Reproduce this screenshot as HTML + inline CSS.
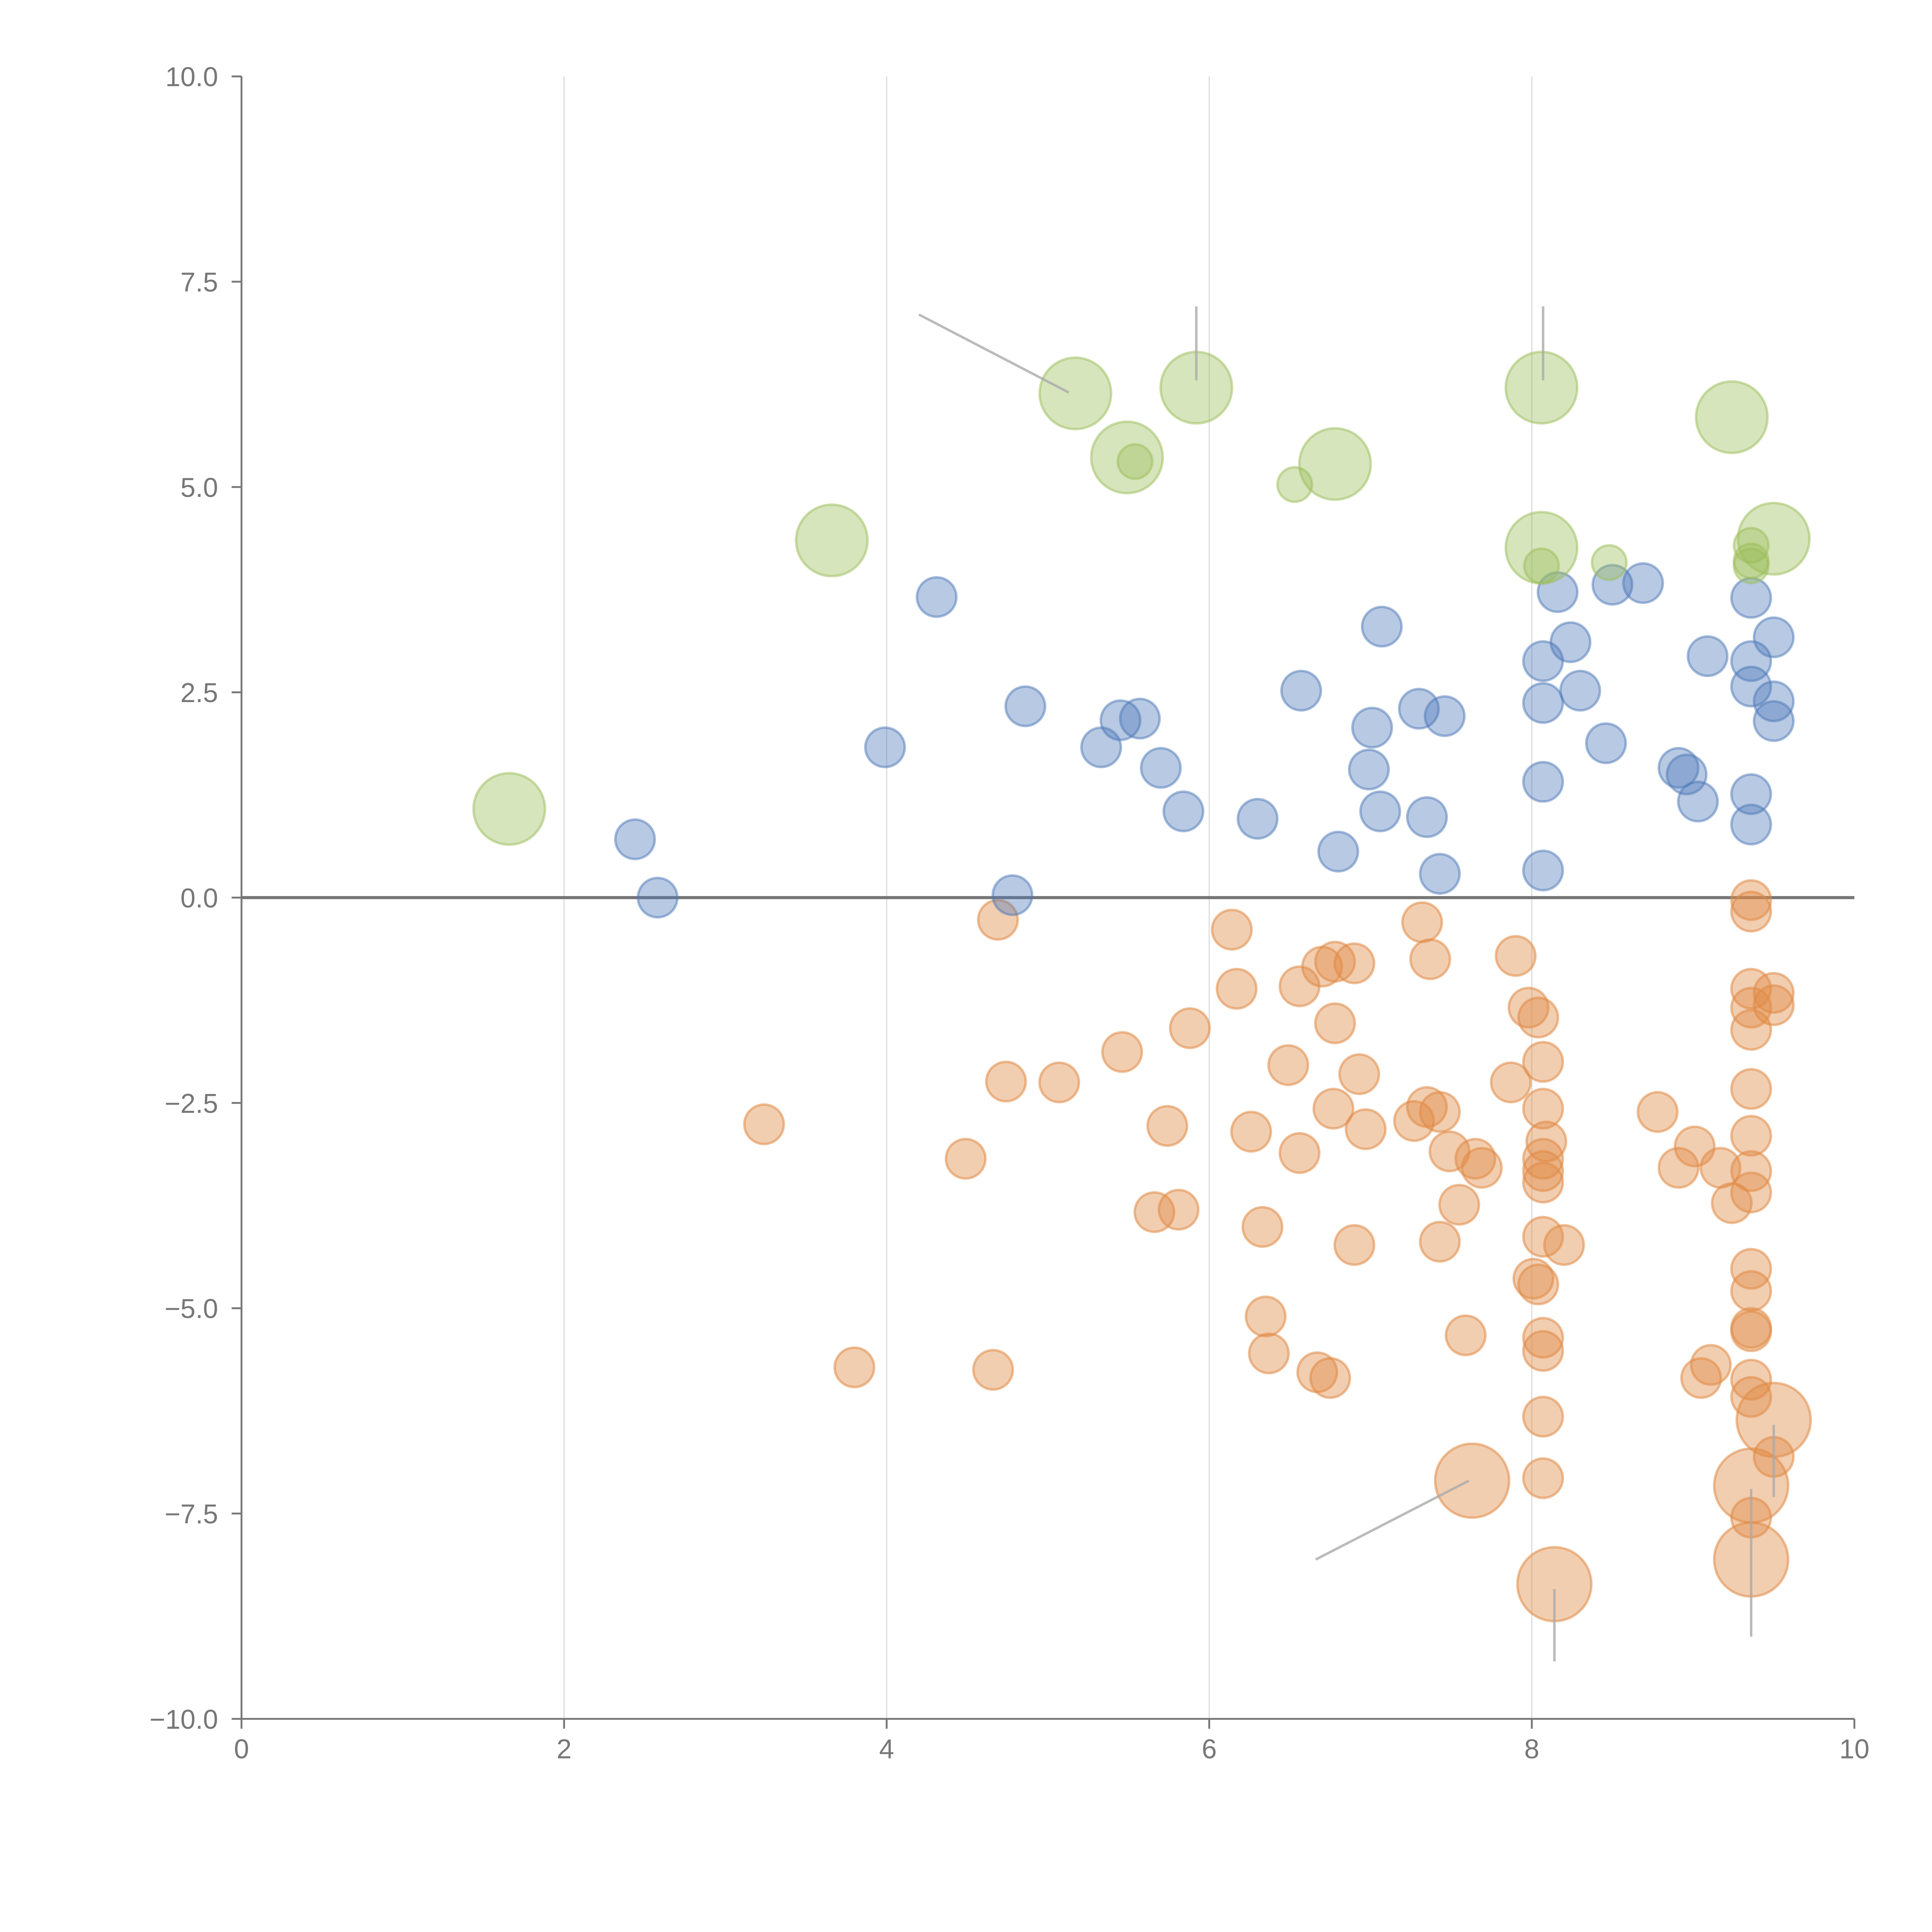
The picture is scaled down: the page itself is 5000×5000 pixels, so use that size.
<!DOCTYPE html>
<html><head><meta charset="utf-8"><style>
html,body{margin:0;padding:0;background:#fff;}
svg{display:block;}
text{font-family:"Liberation Sans",sans-serif;}
</style></head><body>
<svg id="chart" width="5000" height="5000" viewBox="0 0 1568 1568" xmlns="http://www.w3.org/2000/svg">
<g id="grid"></g>
<g id="axes"></g>
<g id="marks"></g>
<g id="ann"></g>
</svg>
<script>
const xTicks=[0,2,4,6,8,10];
const yTicks=[-10,-7.5,-5,-2.5,0,2.5,5,7.5,10];
const blueX=[2.44,2.58,4.31,3.99,4.86,4.78,5.33,5.45,5.57,5.70,5.84,6.30,6.57,6.80,7.01,6.99,7.06,7.07,7.30,7.35,7.43,7.46,8.07,8.07,8.07,8.07,8.16,8.24,8.30,8.46,8.50,8.69,8.91,8.96,9.03,9.09,9.36,9.36,9.36,9.36,9.36,9.50,9.50,9.50];
const blueY=[0.71,0,3.66,1.83,2.33,0.03,1.83,2.16,2.18,1.58,1.05,0.96,2.52,0.56,2.07,1.56,1.05,3.30,2.30,0.98,0.29,2.21,2.88,2.37,1.41,0.33,3.72,3.11,2.52,1.88,3.81,3.83,1.58,1.50,1.17,2.94,3.65,2.88,2.57,1.26,0.89,3.17,2.39,2.15];
const greenX=[1.66,3.66,5.17,5.49,5.54,5.92,6.53,6.78,8.06,8.06,8.06,8.48,9.24,9.36,9.36,9.36,9.50];
const greenY=[1.08,4.35,6.14,5.36,5.31,6.21,5.03,5.28,6.21,4.26,4.04,4.08,5.85,4.29,4.10,4.04,4.37];
const greenS=[2,2,2,2,1,2,1,2,2,2,1,1,2,1,1,1,2];
const orangeX=[4.69,3.24,3.80,4.49,4.66,4.74,5.07,5.46,5.66,5.74,5.81,5.88,6.14,6.17,6.26,6.33,6.35,6.37,6.49,6.56,6.56,6.67,6.70,6.75,6.77,6.78,6.78,6.90,6.90,6.93,6.97,7.27,7.32,7.35,7.37,7.43,7.43,7.49,7.55,7.59,7.65,7.69,7.63,7.87,7.90,7.98,8.04,8.07,8.07,8.09,8.07,8.07,8.07,8.07,8.01,8.04,8.20,8.07,8.07,8.07,8.07,8.14,8.78,8.91,9.01,9.17,9.11,9.05,9.24,9.36,9.36,9.36,9.36,9.36,9.36,9.36,9.36,9.36,9.36,9.36,9.36,9.36,9.36,9.36,9.36,9.36,9.36,9.50,9.50,9.50,9.50];
const orangeY=[-0.27,-2.76,-5.72,-3.18,-5.75,-2.24,-2.25,-1.88,-3.83,-2.78,-3.80,-1.59,-0.39,-1.11,-2.85,-4.01,-5.10,-5.55,-2.04,-1.08,-3.11,-5.78,-0.84,-5.85,-2.57,-0.78,-1.53,-0.80,-4.23,-2.15,-2.82,-2.72,-0.30,-2.55,-0.75,-4.19,-2.61,-3.09,-3.74,-5.33,-3.18,-3.29,-7.10,-2.25,-0.71,-1.34,-1.46,-2.00,-2.57,-2.97,-3.18,-3.33,-3.47,-4.13,-4.64,-4.71,-4.23,-5.36,-5.52,-6.32,-7.07,-8.36,-2.61,-3.29,-3.03,-3.29,-5.69,-5.85,-3.72,-0.03,-0.17,-1.11,-1.34,-1.61,-2.33,-2.90,-3.33,-3.59,-4.52,-4.79,-5.24,-5.28,-5.87,-6.08,-7.16,-7.55,-8.06,-1.16,-1.31,-6.36,-6.81];
const orangeS=[1,1,1,1,1,1,1,1,1,1,1,1,1,1,1,1,1,1,1,1,1,1,1,1,1,1,1,1,1,1,1,1,1,1,1,1,1,1,1,1,1,1,2,1,1,1,1,1,1,1,1,1,1,1,1,1,1,1,1,1,1,2,1,1,1,1,1,1,1,1,1,1,1,1,1,1,1,1,1,1,1,1,1,1,2,1,2,1,1,2,1];
const annStart=[[4.2,7.1],[5.92,7.2],[8.07,7.2],[6.66,-8.06],[8.14,-8.42],[9.36,-7.2],[9.50,-6.42]];
const annEnd=[[5.13,6.15],[5.92,6.3],[8.07,6.3],[7.61,-7.1],[8.14,-9.3],[9.36,-9.0],[9.50,-7.3]];

const NS="http://www.w3.org/2000/svg";
const X0=196,X1=1505,Y0=1395,Y1=62;
const sx=v=>X0+(v-0)/10*(X1-X0);
const sy=v=>Y0-(v+10)/20*(Y0-Y1);
function mk(t,a,p){const e=document.createElementNS(NS,t);for(const k in a)e.setAttribute(k,a[k]);p.appendChild(e);return e;}
const grid=document.getElementById('grid'),axes=document.getElementById('axes'),marks=document.getElementById('marks'),ann=document.getElementById('ann');
xTicks.forEach(t=>{
  if(t>0&&t<10){const g=mk('line',{x1:sx(t),x2:sx(t),y1:Y1,y2:Y0,stroke:'#ddd','stroke-width':1},grid);
    
    }
  const tk=mk('line',{x1:sx(t),x2:sx(t),y1:Y0,y2:Y0+8,stroke:'#777','stroke-width':1.5},axes);
  
  
  const tx=mk('text',{x:sx(t),y:Y0+32,'text-anchor':'middle','font-size':22,fill:'#777'},axes);tx.textContent=String(t);
  
  
});
yTicks.forEach(t=>{
  const tk=mk('line',{x1:X0-8,x2:X0,y1:sy(t),y2:sy(t),stroke:'#777','stroke-width':1.5},axes);
  
  
  const tx=mk('text',{x:X0-19,y:sy(t)+8,'text-anchor':'end','font-size':22,fill:'#777'},axes);tx.textContent=t.toFixed(1).replace('-','\u2212');
  
  
});
const xa=mk('line',{x1:X0,x2:X1,y1:Y0,y2:Y0,stroke:'#777','stroke-width':1.5},axes);


const ya=mk('line',{x1:X0,x2:X0,y1:Y1,y2:Y0,stroke:'#777','stroke-width':1.5},axes);


const zl=mk('line',{x1:X0,x2:X1,y1:sy(0),y2:sy(0),stroke:'#777','stroke-width':2.5},axes);



function series(xs,ys,ss,fill,stroke,rs,name){
  xs.forEach((x,i)=>{
    const r=ss?(ss[i]===2?rs[1]:rs[0]):rs[0];
    const c=mk('circle',{cx:sx(x),cy:sy(ys[i]),r:r,fill:fill,stroke:stroke,'stroke-width':2},marks);
    
    
  });
}
series(orangeX,orangeY,orangeS,'rgba(224,138,69,0.42)','rgba(224,138,69,0.55)',[16,30],'orange-bubble');
series(blueX,blueY,null,'rgba(78,121,184,0.4)','rgba(78,121,184,0.5)',[16,16],'blue-bubble');
series(greenX,greenY,greenS,'rgba(156,189,90,0.4)','rgba(156,189,90,0.5)',[14,29],'green-bubble');
annStart.forEach((s,i)=>{
  const e=annEnd[i];
  const l=mk('line',{x1:sx(s[0]),y1:sy(s[1]),x2:sx(e[0]),y2:sy(e[1]),stroke:'#aaa','stroke-width':2,'stroke-opacity':0.8},ann);
  
  
});
</script>
</body></html>
